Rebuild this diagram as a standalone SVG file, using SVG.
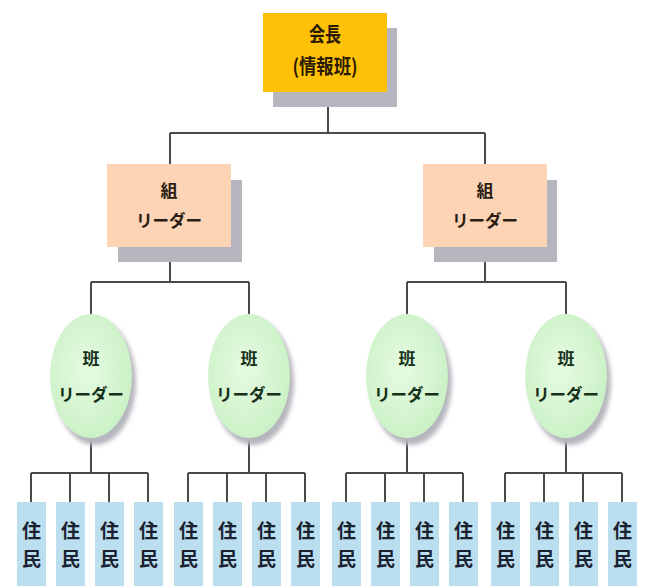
<svg xmlns="http://www.w3.org/2000/svg" width="646" height="586" viewBox="0 0 646 586">
<defs>
<filter id="blur" x="-20%" y="-20%" width="140%" height="140%"><feGaussianBlur stdDeviation="2"/></filter>
<radialGradient id="eg" cx="45%" cy="45%" r="60%"><stop offset="0" stop-color="#e6fbe2"/><stop offset="1" stop-color="#c9f0c4"/></radialGradient>
</defs>
<style>
text{font-family:"Noto Sans CJK JP","Noto Sans CJK SC",sans-serif;font-weight:bold;text-anchor:middle;dominant-baseline:central}
.sh{fill:#b6b6be}
.top{fill:#ffc107}
.grp{fill:#fdd4b5}
.ell{fill:url(#eg)}
.res{fill:#bcdff0}
.c line,.c path{stroke:#4a4a4a;stroke-width:2;fill:none}
.t1{font-size:20px;fill:#2a1a00}
.t2{font-size:17px;fill:#2a1d14}
.t3{font-size:17px;fill:#16301a}
.t4{font-size:19px;fill:#1a2230}
</style>
<rect width="646" height="586" fill="#ffffff"/>
<g class="c" id="connectors">
<path d="M328 92V133M170 133H485M170 133V164M485 133V164"/>
<path d="M170 247V282M91 282H249M91 282V314M249 282V314"/>
<path d="M485 247V282M407 282H566M407 282V314M566 282V314"/>
<path d="M91 438V473M31 473H148M31 473V502M70 473V502M109 473V502M148 473V502"/>
<path d="M249 438V473M188 473H305M188 473V502M227 473V502M266 473V502M305 473V502"/>
<path d="M407 438V473M346 473H463M346 473V502M385 473V502M424 473V502M463 473V502"/>
<path d="M566 438V473M505 473H622M505 473V502M544 473V502M583 473V502M622 473V502"/>
</g>
<g id="chairman">
<rect class="sh" x="273" y="28" width="124" height="79"/>
<rect class="top" x="263" y="13" width="124" height="79"/>
<text class="t1" x="325" y="33" textLength="32" lengthAdjust="spacingAndGlyphs">会長</text>
<text class="t1" x="325" y="65" textLength="65" lengthAdjust="spacingAndGlyphs">(情報班)</text>
</g>
<g id="group-left">
<rect class="sh" x="118" y="180" width="124" height="82"/>
<rect class="grp" x="107" y="164" width="124" height="83"/>
<text class="t2" x="169" y="189">組</text>
<text class="t2" x="169" y="219" textLength="66" lengthAdjust="spacingAndGlyphs">リーダー</text>
</g>
<g id="group-right">
<rect class="sh" x="434" y="180" width="123" height="82"/>
<rect class="grp" x="423" y="164" width="124" height="83"/>
<text class="t2" x="485" y="189">組</text>
<text class="t2" x="485" y="219" textLength="66" lengthAdjust="spacingAndGlyphs">リーダー</text>
</g>
<g id="han1">
<ellipse class="sh" cx="95" cy="382" rx="41" ry="63" filter="url(#blur)"/>
<ellipse class="ell" cx="91" cy="376" rx="41" ry="62"/>
<text class="t3" x="91" y="357">班</text>
<text class="t3" x="91" y="393" textLength="66" lengthAdjust="spacingAndGlyphs">リーダー</text>
</g>
<g id="han2">
<ellipse class="sh" cx="253" cy="382" rx="41" ry="63" filter="url(#blur)"/>
<ellipse class="ell" cx="249" cy="376" rx="41" ry="62"/>
<text class="t3" x="249" y="357">班</text>
<text class="t3" x="249" y="393" textLength="66" lengthAdjust="spacingAndGlyphs">リーダー</text>
</g>
<g id="han3">
<ellipse class="sh" cx="411" cy="382" rx="41" ry="63" filter="url(#blur)"/>
<ellipse class="ell" cx="407" cy="376" rx="41" ry="62"/>
<text class="t3" x="407" y="357">班</text>
<text class="t3" x="407" y="393" textLength="66" lengthAdjust="spacingAndGlyphs">リーダー</text>
</g>
<g id="han4">
<ellipse class="sh" cx="570" cy="382" rx="41" ry="63" filter="url(#blur)"/>
<ellipse class="ell" cx="566" cy="376" rx="41" ry="62"/>
<text class="t3" x="566" y="357">班</text>
<text class="t3" x="566" y="393" textLength="66" lengthAdjust="spacingAndGlyphs">リーダー</text>
</g>
<g id="r1"><rect class="res" x="17" y="502" width="29" height="84"/><text class="t4" x="31.5" y="529">住</text><text class="t4" x="31.5" y="557">民</text></g>
<g id="r2"><rect class="res" x="56" y="502" width="29" height="84"/><text class="t4" x="70.5" y="529">住</text><text class="t4" x="70.5" y="557">民</text></g>
<g id="r3"><rect class="res" x="95" y="502" width="29" height="84"/><text class="t4" x="109.5" y="529">住</text><text class="t4" x="109.5" y="557">民</text></g>
<g id="r4"><rect class="res" x="134" y="502" width="29" height="84"/><text class="t4" x="148.5" y="529">住</text><text class="t4" x="148.5" y="557">民</text></g>
<g id="r5"><rect class="res" x="174" y="502" width="29" height="84"/><text class="t4" x="188.5" y="529">住</text><text class="t4" x="188.5" y="557">民</text></g>
<g id="r6"><rect class="res" x="213" y="502" width="29" height="84"/><text class="t4" x="227.5" y="529">住</text><text class="t4" x="227.5" y="557">民</text></g>
<g id="r7"><rect class="res" x="252" y="502" width="29" height="84"/><text class="t4" x="266.5" y="529">住</text><text class="t4" x="266.5" y="557">民</text></g>
<g id="r8"><rect class="res" x="291" y="502" width="29" height="84"/><text class="t4" x="305.5" y="529">住</text><text class="t4" x="305.5" y="557">民</text></g>
<g id="r9"><rect class="res" x="332" y="502" width="29" height="84"/><text class="t4" x="346.5" y="529">住</text><text class="t4" x="346.5" y="557">民</text></g>
<g id="r10"><rect class="res" x="371" y="502" width="29" height="84"/><text class="t4" x="385.5" y="529">住</text><text class="t4" x="385.5" y="557">民</text></g>
<g id="r11"><rect class="res" x="410" y="502" width="29" height="84"/><text class="t4" x="424.5" y="529">住</text><text class="t4" x="424.5" y="557">民</text></g>
<g id="r12"><rect class="res" x="449" y="502" width="29" height="84"/><text class="t4" x="463.5" y="529">住</text><text class="t4" x="463.5" y="557">民</text></g>
<g id="r13"><rect class="res" x="491" y="502" width="29" height="84"/><text class="t4" x="505.5" y="529">住</text><text class="t4" x="505.5" y="557">民</text></g>
<g id="r14"><rect class="res" x="530" y="502" width="29" height="84"/><text class="t4" x="544.5" y="529">住</text><text class="t4" x="544.5" y="557">民</text></g>
<g id="r15"><rect class="res" x="569" y="502" width="29" height="84"/><text class="t4" x="583.5" y="529">住</text><text class="t4" x="583.5" y="557">民</text></g>
<g id="r16"><rect class="res" x="608" y="502" width="29" height="84"/><text class="t4" x="622.5" y="529">住</text><text class="t4" x="622.5" y="557">民</text></g>
</svg>
